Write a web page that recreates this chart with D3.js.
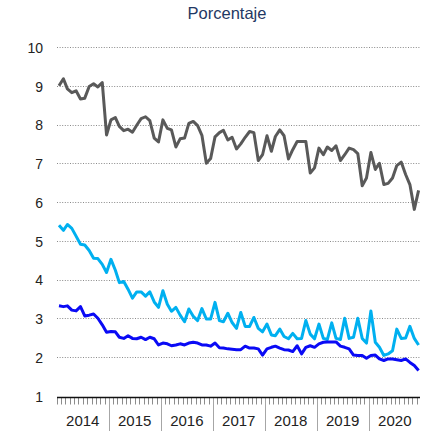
<!DOCTYPE html>
<html>
<head>
<meta charset="utf-8">
<script src="https://cdn.jsdelivr.net/npm/d3@7"></script>
<style>
  html, body { margin: 0; padding: 0; background: #fff; }
  svg { display: block; font-family: "Liberation Sans", Arial, sans-serif; }
</style>
</head>
<body>
<svg id="chart" width="421" height="431"></svg>
<script>
// Monthly series, January 2014 to December 2020
const startYear = 2014;
const years = ["2014", "2015", "2016", "2017", "2018", "2019", "2020"];
const yTicks = [1, 2, 3, 4, 5, 6, 7, 8, 9, 10];

const serieGris = [
  9.0, 9.18, 8.92, 8.82, 8.87, 8.66, 8.68, 8.98, 9.05, 8.97, 9.08, 7.73,
  8.12, 8.18, 7.95, 7.84, 7.88, 7.8, 7.98, 8.15, 8.2, 8.1, 7.65, 7.55,
  8.12, 7.9, 7.86, 7.42, 7.63, 7.65, 8.03, 8.08, 7.97, 7.72, 7.0, 7.12,
  7.68, 7.79, 7.85, 7.6, 7.67, 7.37, 7.5, 7.67, 7.82, 7.79, 7.07, 7.22,
  7.71, 7.31, 7.69, 7.86, 7.71, 7.11, 7.35, 7.56, 7.56, 7.56, 6.75, 6.88,
  7.39, 7.22, 7.42, 7.33, 7.45, 7.07, 7.22, 7.39, 7.35, 7.25, 6.42, 6.62,
  7.28, 6.84, 7.0, 6.45, 6.48, 6.62, 6.94, 7.03, 6.71, 6.45, 5.81, 6.3
];

const serieCeleste = [
  5.40, 5.27, 5.42, 5.32, 5.12, 4.91, 4.89, 4.75, 4.55, 4.54, 4.39, 4.18,
  4.52, 4.24, 3.92, 3.95, 3.75, 3.52, 3.68, 3.68, 3.57, 3.68, 3.42, 3.28,
  3.71, 3.36, 3.18, 3.28, 3.08, 2.91, 3.24, 3.05, 2.94, 3.25, 2.98, 2.98,
  3.41, 2.94, 2.91, 3.13, 2.89, 2.74, 3.15, 2.79, 2.79, 3.02, 2.74, 2.65,
  2.85, 2.57, 2.55, 2.72, 2.53, 2.47, 2.61, 2.47, 2.48, 2.94, 2.59, 2.47,
  2.85, 2.48, 2.45, 2.88, 2.48, 2.45, 3.0, 2.48, 2.51, 3.0, 2.48, 2.36,
  3.19, 2.38, 2.25, 2.04, 2.08, 2.16, 2.72, 2.48, 2.49, 2.79, 2.48, 2.31
];

const serieAzul = [
  3.32, 3.30, 3.32, 3.21, 3.19, 3.30, 3.06, 3.08, 3.11, 3.0, 2.83, 2.64,
  2.66, 2.65, 2.51, 2.48, 2.55, 2.48, 2.47, 2.51, 2.45, 2.51, 2.47, 2.31,
  2.36, 2.34, 2.29, 2.31, 2.34, 2.31, 2.36, 2.38, 2.36, 2.31, 2.31, 2.28,
  2.36, 2.24, 2.23, 2.21, 2.20, 2.19, 2.19, 2.28, 2.23, 2.23, 2.21, 2.05,
  2.21, 2.25, 2.28, 2.23, 2.19, 2.18, 2.14, 2.29, 2.08, 2.25, 2.29, 2.25,
  2.34, 2.38, 2.39, 2.39, 2.39, 2.28, 2.25, 2.21, 2.05, 2.04, 2.04, 1.97,
  2.04, 2.05, 1.95, 1.91, 1.95, 1.95, 1.93, 1.91, 1.95, 1.86, 1.78, 1.65
];

const series = [
  { values: serieGris, color: "#595959", width: 3 },
  { values: serieCeleste, color: "#00b0f0", width: 3 },
  { values: serieAzul, color: "#0a0af5", width: 3 }
];

const svg = d3.select("#chart");
const left = 57, right = 421;

const x = d3.scaleTime()
  .domain([new Date(startYear, 0, 1), new Date(startYear + years.length, 0, 1)])
  .range([left, right]);
const y = d3.scaleLinear().domain([2, 10]).range([357, 47]);

const monthDate = i => new Date(startYear, i, 15);

// Title
svg.append("text")
  .attr("x", 227).attr("y", 19)
  .attr("text-anchor", "middle")
  .attr("font-size", 16.5)
  .attr("fill", "#1f3864")
  .text("Porcentaje");

// Dotted gridlines
svg.append("g")
  .selectAll("line")
  .data(yTicks.filter(t => t > 1))
  .join("line")
  .attr("x1", left).attr("x2", right - 1)
  .attr("y1", d => Math.round(y(d)) + 0.5)
  .attr("y2", d => Math.round(y(d)) + 0.5)
  .attr("stroke", "#8a8a8a")
  .attr("stroke-width", 1)
  .attr("stroke-dasharray", "1,1.6");

// Y labels
svg.append("g")
  .selectAll("text")
  .data(yTicks)
  .join("text")
  .attr("x", 43)
  .attr("y", d => y(d) + 1)
  .attr("dy", "0.35em")
  .attr("text-anchor", "end")
  .attr("font-size", 14)
  .attr("fill", "#222")
  .text(d => d);

// Series lines
const line = d3.line()
  .x((d, i) => x(monthDate(i)))
  .y(d => y(d));

svg.append("g")
  .selectAll("path")
  .data(series)
  .join("path")
  .attr("d", s => line(s.values))
  .attr("fill", "none")
  .attr("stroke", s => s.color)
  .attr("stroke-width", s => s.width)
  .attr("stroke-linejoin", "round")
  .attr("stroke-linecap", "butt");

// X axis: monthly ticks, year separators and year labels
const axisY = Math.round(y(1)) + 1.5;
const months = d3.timeMonth.range(new Date(startYear, 0, 1), new Date(startYear + years.length, 0, 2));

svg.append("g")
  .selectAll("line")
  .data(months)
  .join("line")
  .attr("x1", d => Math.round(x(d)) + 0.5)
  .attr("x2", d => Math.round(x(d)) + 0.5)
  .attr("y1", axisY)
  .attr("y2", axisY + 7)
  .attr("stroke", "#8c8c8c")
  .attr("stroke-width", 1);

const yearStarts = years.slice(1).map(yr => new Date(+yr, 0, 1));
svg.append("g")
  .selectAll("line")
  .data(yearStarts)
  .join("line")
  .attr("x1", d => Math.round(x(d)) + 0.5)
  .attr("x2", d => Math.round(x(d)) + 0.5)
  .attr("y1", axisY)
  .attr("y2", 431)
  .attr("stroke", "#a6a6a6")
  .attr("stroke-width", 1);

svg.append("line")
  .attr("x1", left).attr("x2", right - 1)
  .attr("y1", axisY).attr("y2", axisY)
  .attr("stroke", "#111")
  .attr("stroke-width", 1.5);

svg.append("g")
  .selectAll("text")
  .data(years)
  .join("text")
  .attr("x", d => x(new Date(+d, 6, 1)))
  .attr("y", 426)
  .attr("text-anchor", "middle")
  .attr("font-size", 15)
  .attr("fill", "#222")
  .text(d => d);
</script>
</body>
</html>
